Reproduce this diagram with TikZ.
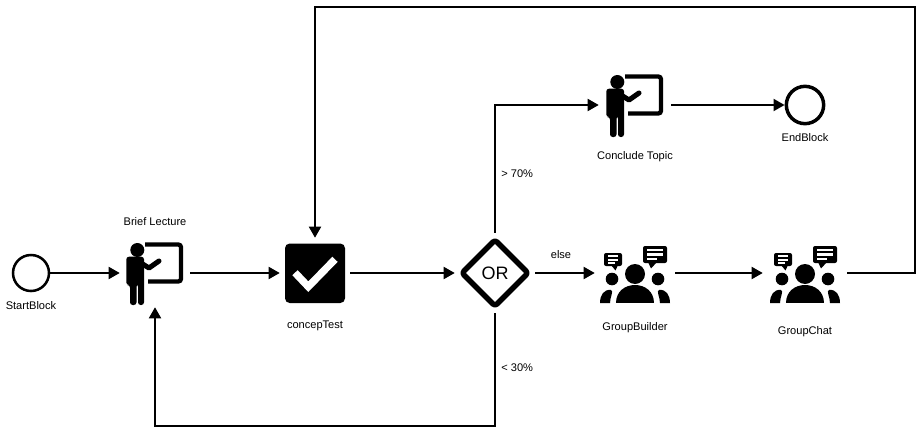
\documentclass[tikz,border=0pt]{standalone}
\usepackage{fontspec}
\setmainfont{Liberation Sans}
\usetikzlibrary{arrows.meta, positioning}

\tikzset{
	flow/.style={->, >={Stealth[inset=0pt, length=8.3pt, width=9pt]}, line width=1.5pt},
	event/.style={circle, draw, line width=1.9pt, minimum size=27pt, inner sep=0pt},
	endevent/.style={event, line width=2.6pt, minimum size=28pt},
	slot/.style={inner sep=0pt, minimum width=#1},
	lbl/.style={font=\fontsize{8.3}{10}\selectfont, inner sep=0pt},
	lectureicon/.pic={
		\draw[line width=3.2pt, rounded corners=2pt] (-10,-28.5) -| (26,8.5) -- (-7,8.5);
		\fill[rounded corners=2pt] (-28.7,-16.3) -- (-11,-16.3) -- (-11,32) -- (-17,32) -- (-17,11) -- (-18.5,11) -- (-18.5,32) -- (-25,32) -- (-25,12) -- (-28.7,12) -- cycle;
		\fill (-17.7,-23) circle (7);
		\draw[line width=3.8pt, line cap=round, line join=round] (-14,-10) -- (-6,-5) -- (4,-12);
	},
	testicon/.pic={
		\fill[rounded corners=3.5pt] (-30,-29.5) rectangle (30,30);
		\draw[white, line width=5.5pt] (-20,-0.3) -- (-6.7,13.7) -- (20,-13.7);
	},
	oricon/.pic={
		\draw[line width=4pt, line join=round, rounded corners=2pt] (-33,0) -- (0,-33) -- (33,0) -- (0,33) -- cycle;
	},
	groupicon/.pic={
		\fill[rounded corners=1.5pt] (-31,-20) rectangle (-13,-7);
		\fill (-24,-8) -- (-19.5,-2.5) -- (-17,-8) -- cycle;
		\fill[rounded corners=1.5pt] (8,-27) rectangle (32,-10);
		\fill (13,-11) -- (16,-4.5) -- (22,-11) -- cycle;
		\draw[white, line width=1.5pt] (-27,-17) -- (-17,-17) (-27,-13.5) -- (-17,-13.5) (-27,-10) -- (-20,-10);
		\draw[white, line width=1.7pt] (12,-23) -- (28,-23) (12,-18.5) -- (28,-18.5) (12,-14) -- (22,-14);
		\fill (0,1) circle (10);
		\fill (-23,6) circle (6.3);
		\fill (23,6) circle (6.3);
		\fill (-19,30) .. controls (-19,6) and (19,6) .. (19,30) -- cycle;
		\fill (-35,30) .. controls (-35,22) and (-31,16) .. (-24,17) .. controls (-21,18) and (-25,24) .. (-25,30) -- cycle;
		\fill (35,30) .. controls (35,22) and (31,16) .. (24,17) .. controls (21,18) and (25,24) .. (25,30) -- cycle;
	}
}

\begin{document}
\begin{tikzpicture}[x=0.75pt, y=-0.75pt, on grid]

\useasboundingbox (0,0) rectangle (921,432);

\node[event]						(start)		at (31,273)				{};
\node[slot=52.5pt, minimum height=51pt]	(lecture)	[right=93pt of start]	{};
\node[slot=52.5pt, minimum height=52.5pt]	(test)		[right=120pt of lecture]	{};
\node[slot=60pt, minimum height=60pt, font=\fontsize{13.5}{16}\selectfont]	(or)	[right=135pt of test]	{OR};
\node[slot=60pt, minimum height=52pt]	(builder)	[right=105pt of or]		{};
\node[slot=63pt, minimum height=52pt]	(chat)		[right=127.5pt of builder]	{};
\node[slot=54pt, minimum height=52pt]	(conclude)	[above=126pt of builder]	{};
\node[endevent]						(end)		[above=126pt of chat]	{};

\coordinate							(lowbend)	at (495,426);
\coordinate							(highbend)	at (915,7);

\pic at (lecture)	{lectureicon};
\pic at (test)		{testicon};
\pic at (or)		{oricon};
\pic at (builder)	{groupicon};
\pic at (chat)		{groupicon};
\pic at (conclude)	{lectureicon};

\node[lbl]	(startlbl)		[below=24.5pt of start]		{StartBlock};
\node[lbl]	(lecturelbl)	[above=38.5pt of lecture]	{Brief Lecture};
\node[lbl]	(testlbl)		[below=39.5pt of test]		{concepTest};
\node[lbl]	(builderlbl)	[below=41pt of builder]		{GroupBuilder};
\node[lbl]	(chatlbl)		[below=44pt of chat]		{GroupChat};
\node[lbl]	(concludelbl)	[below=38.5pt of conclude]	{Conclude Topic};
\node[lbl]	(endlbl)		[below=24.5pt of end]		{EndBlock};

\path[flow]	(start)		edge							(lecture);
\path[flow]	(lecture)	edge							(test);
\path[flow]	(test)		edge							(or);
\path[flow]	(or)		edge	node[lbl, above=10pt, xshift=-3pt]	{else}	(builder);
\path[flow]	(builder)	edge							(chat);
\path[flow]	(conclude)	edge							(end);

\draw[flow]	(or)	|- node[lbl, right=4pt, pos=.23]	{> 70\%}	(conclude);
\draw[flow]	(or)	-- node[lbl, right=4pt, pos=.48]	{< 30\%}	(lowbend) -| (lecture);
\draw[flow]	(chat)	-| (highbend) -| (test);

\end{tikzpicture}
\end{document}
